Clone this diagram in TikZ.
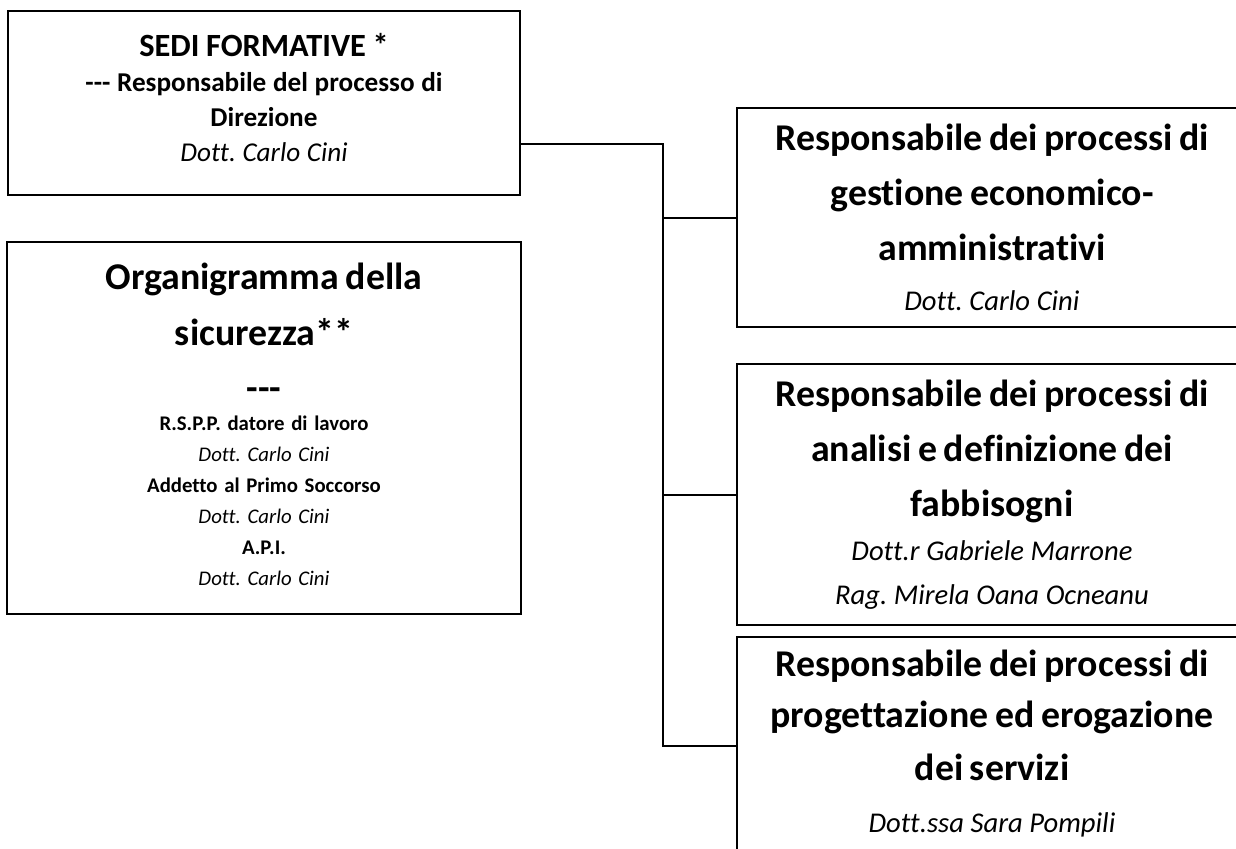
\documentclass[tikz,border=0pt]{standalone}
\usepackage{fontspec}
\setmainfont{Carlito}[Ligatures={NoCommon}]
\usetikzlibrary{positioning}
\setlength{\parindent}{0pt}
\frenchspacing
\tikzset{%
    orgbox/.style={%
        rectangle,
        draw,
        line width=1pt,
        inner sep=0pt,
        text width=250pt,
        align=center
    },
    link/.style={%
        line width=1pt
    }
}
\newcommand{\tripledash}{-\kern0pt-\kern0pt-}
\newcommand{\headline}[2][27.5]{{\fontsize{18.9}{#1}\selectfont\bfseries #2\par}}
\newcommand{\persline}[2][22]{{\fontsize{14.3}{#1}\selectfont\itshape #2\par}}
\newcommand{\topline}[2][13.6]{{\fontsize{#1}{17.5}\selectfont\bfseries #2\par}}
\newcommand{\topname}[1]{{\fontsize{13.6}{17.5}\selectfont\itshape #1\par}}
\newcommand{\smallrole}[2][15.5]{{\fontsize{10.4}{#1}\selectfont\bfseries #2\par}}
\newcommand{\smallname}[2][15.5]{{\fontsize{10.4}{#1}\selectfont\itshape #2\par}}

\begin{document}
\begin{tikzpicture}[x=0.5pt,y=-0.5pt]
    \clip (0,0) rectangle (1236,848);
    \node[orgbox,minimum width=256pt,minimum height=92pt] (sedi) at (264,103) {%
        \topline[16.2]{SEDI FORMATIVE *}
        \topline{\tripledash{} Responsabile del processo di}
        \topline{Direzione}
        \topname{Dott. Carlo Cini}
        \kern5pt};
    \node[orgbox,minimum width=257pt,minimum height=186pt,below=22.5pt of sedi] (sicurezza) {%
        \headline{Organigramma della}
        \headline[28]{sicurezza**}
        \headline[27.5]{\tripledash}
        \smallrole[15]{R.S.P.P. datore di lavoro}
        \smallname{Dott. Carlo Cini}
        \smallrole{Addetto al Primo Soccorso}
        \smallname{Dott. Carlo Cini}
        \smallrole{A.P.I.}
        \smallname{Dott. Carlo Cini}
        \kern4pt};
    \node[orgbox,minimum width=255pt,minimum height=109.5pt] (gestione) at (992,217.5) {%
        \headline{Responsabile dei processi di}
        \headline{gestione economico-}
        \headline{amministrativi}
        \persline[25]{Dott. Carlo Cini}};
    \node[orgbox,minimum width=255pt,minimum height=130.5pt,below=17.5pt of gestione] (analisi) {%
        \headline{Responsabile dei processi di}
        \headline{analisi e definizione dei}
        \headline{fabbisogni}
        \persline{Dott.r Gabriele Marrone}
        \persline{Rag. Mirela Oana Ocneanu}};
    \node[orgbox,minimum width=255pt,minimum height=108.5pt,below=5pt of analisi] (progettazione) {%
        \headline{Responsabile dei processi di}
        \headline[25.5]{progettazione ed erogazione}
        \headline[26.5]{dei servizi}
        \persline[26]{Dott.ssa Sara Pompili}
        \kern2pt};
    \coordinate (split) at (663,144);
    \draw[link] (sedi.east |- split) -- (split) -- (split |- progettazione.west) -- (progettazione.west);
    \draw[link] (split |- gestione.west) -- (gestione.west);
    \draw[link] (split |- analisi.west) -- (analisi.west);
\end{tikzpicture}
\end{document}
